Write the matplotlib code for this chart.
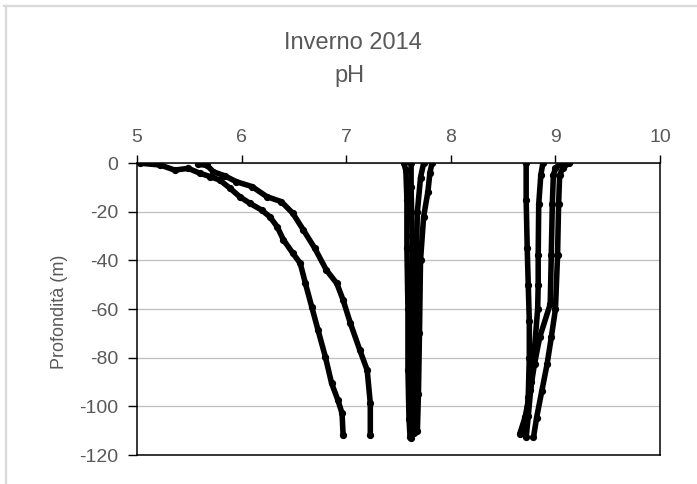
import matplotlib.pyplot as plt  # For plotting
from matplotlib.lines import Line2D

plt.rcParams['axes.unicode_minus'] = False

# pH profiles (pH value, depth in m)
prof_a_ph = [5.58, 5.67, 5.73, 5.84, 5.95, 6.10, 6.24, 6.38, 6.49, 6.59, 6.70, 6.81, 6.91, 6.97,
             7.04, 7.13, 7.20, 7.23, 7.23]
prof_a_dep = [-0.5, -1.0, -3.6, -5.3, -7.7, -9.7, -13.8, -15.9, -20.7, -27.5, -35.1, -44.0, -49.5,
              -56.3, -65.9, -76.9, -85.1, -98.8, -111.8]

prof_b_ph = [5.03, 5.22, 5.36, 5.49, 5.60, 5.70, 5.79, 5.89, 5.98, 6.08, 6.19, 6.27, 6.34, 6.40,
             6.49, 6.56, 6.61, 6.67, 6.73, 6.80, 6.86, 6.92, 6.96, 6.97]
prof_b_dep = [-0.1, -0.8, -2.9, -2.2, -4.2, -5.6, -7.0, -10.4, -13.8, -16.6, -19.3, -22.1, -26.2,
              -31.6, -37.1, -41.2, -49.5, -59.1, -68.6, -79.6, -90.5, -97.4, -102.9, -111.8]

prof_m1_ph = [7.55, 7.57, 7.58, 7.58, 7.59, 7.59, 7.60, 7.61]
prof_m1_dep = [0, -3, -15, -35, -60, -85, -105, -112.6]
prof_m2_ph = [7.62, 7.62, 7.63, 7.63, 7.63, 7.62, 7.62]
prof_m2_dep = [0, -10, -30, -55, -80, -100, -113]
prof_m3_ph = [7.74, 7.71, 7.68, 7.67, 7.67, 7.66, 7.65]
prof_m3_dep = [0, -6, -20, -40, -70, -95, -111]
prof_m4_ph = [7.82, 7.80, 7.78, 7.74, 7.71, 7.70, 7.69, 7.68]
prof_m4_dep = [0, -4, -12, -22, -40, -70, -95, -110]

prof_c_ph = [8.72, 8.72, 8.73, 8.74, 8.75, 8.75, 8.74, 8.72, 8.69]
prof_c_dep = [0, -15, -35, -50, -65, -80, -96, -107, -111]
prof_d_ph = [8.88, 8.86, 8.84, 8.835, 8.835, 8.83, 8.80, 8.77, 8.74, 8.72]
prof_d_dep = [0, -5, -17, -38, -50, -60, -76, -90, -104, -112.8]
prof_e_ph = [9.13, 9.07, 9.04, 9.03, 9.02, 9.00, 8.96, 8.92, 8.87, 8.82, 8.79]
prof_e_dep = [0, -2, -5, -17, -38, -60, -71.7, -82.7, -93.6, -104.6, -112.8]
prof_f_ph = [9.06, 9.00, 8.98, 8.97, 8.96, 8.95, 8.85, 8.80, 8.76, 8.71, 8.66]
prof_f_dep = [0, -2, -5, -17, -38, -58, -71.5, -82.5, -93.4, -104.4, -111.2]

profiles = [(prof_a_ph, prof_a_dep), (prof_b_ph, prof_b_dep),
            (prof_m1_ph, prof_m1_dep), (prof_m2_ph, prof_m2_dep),
            (prof_m3_ph, prof_m3_dep), (prof_m4_ph, prof_m4_dep),
            (prof_c_ph, prof_c_dep), (prof_d_ph, prof_d_dep),
            (prof_e_ph, prof_e_dep), (prof_f_ph, prof_f_dep)]

x_ticks = [5, 6, 7, 8, 9, 10]
y_ticks = [0, -20, -40, -60, -80, -100, -120]

fonts = ['Liberation Sans', 'DejaVu Sans']
grey_text = '#595959'

fig = plt.figure(figsize=(6.97, 4.84), dpi=100)
ax = fig.add_axes([0.1966, 0.0599, 0.7504, 0.6033])

# Draw each profile as a thick band of dots
for ph, dep in profiles:
    ax.plot(ph, dep, color='black', lw=4, marker='o', ms=4.2, solid_capstyle='round',
            solid_joinstyle='round')

ax.set_xlim(5, 10)
ax.set_ylim(-120, 0)
ax.set_xticks(x_ticks)
ax.set_yticks(y_ticks)
ax.xaxis.tick_top()
ax.tick_params(axis='x', direction='out', length=6, width=1, pad=6,
               labelsize=14, labelcolor=grey_text, color='black')
ax.tick_params(axis='y', direction='out', length=6.5, width=1, pad=7,
               labelsize=14, labelcolor=grey_text, color='black')
for lbl in ax.get_xticklabels() + ax.get_yticklabels():
    lbl.set_family(fonts)

# Horizontal gridlines only
ax.yaxis.grid(True, color='#bfbfbf', lw=0.9)
ax.set_axisbelow(True)
for sp in ax.spines.values():
    sp.set_color('black')
    sp.set_linewidth(1.1)

# Title and axis label
fig.text(0.506, 1 - 43 / 484, 'Inverno 2014', ha='center', va='center',
         fontsize=17, color=grey_text, family=fonts)
fig.text(0.502, 1 - 76 / 484, 'pH', ha='center', va='center',
         fontsize=17, color=grey_text, family=fonts)
fig.text(60 / 697, 1 - 312 / 484, 'Profondità (m)', ha='center', va='center', rotation=90,
         fontsize=13, color=grey_text, family=fonts)

# Light grey chart border (top and left visible)
fig.add_artist(Line2D([4 / 697, 1], [1 - 6 / 484, 1 - 6 / 484], color='#d9d9d9', lw=1.6,
                      transform=fig.transFigure))
fig.add_artist(Line2D([5.5 / 697, 5.5 / 697], [0, 1 - 6 / 484], color='#d9d9d9', lw=1.6,
                      transform=fig.transFigure))

fig.savefig('out.png', dpi=100)
